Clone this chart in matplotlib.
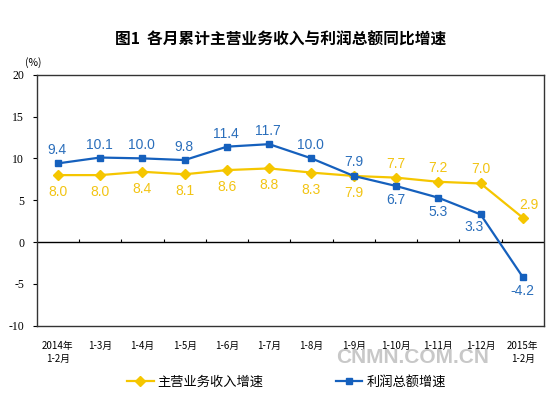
import matplotlib
matplotlib.use("Agg")
import matplotlib.pyplot as plt
from matplotlib.lines import Line2D

plt.rcParams['font.family'] = ['Noto Sans CJK SC', 'DejaVu Sans']

months = ['2014年\n1-2月', '1-3月', '1-4月', '1-5月', '1-6月', '1-7月', '1-8月',
          '1-9月', '1-10月', '1-11月', '1-12月', '2015年\n1-2月']
revenue = [8.0, 8.0, 8.4, 8.1, 8.6, 8.8, 8.3, 7.9, 7.7, 7.2, 7.0, 2.9]
profit = [9.4, 10.1, 10.0, 9.8, 11.4, 11.7, 10.0, 7.9, 6.7, 5.3, 3.3, -4.2]

# label offsets in pixels (dx, dy)
rev_off = [(0, -17)] * 8 + [(0, 14), (0, 14), (0, 14), (6, 13)]
pro_off = [(-1, 13)] * 7 + [(0, 14), (0, -14), (0, -14), (-7, -13), (0, -14)]

yellow = '#F5C600'
blue = '#1560BD'

fig = plt.figure(figsize=(5.51, 3.97), dpi=100)
ax = fig.add_axes([0.0666, 0.1796, 0.9207, 0.6322])

x = list(range(len(months)))
ax.plot(x, revenue, color=yellow, lw=1.6, marker='D', ms=5.5, zorder=3)
ax.plot(x, profit, color=blue, lw=1.6, marker='s', ms=4.5, zorder=4)

for i, v in enumerate(revenue):
    ax.annotate(f'{v:.1f}', (i, v), xytext=rev_off[i], textcoords='offset pixels',
                ha='center', va='center', color='#F2C414', fontsize=10,
                family='Liberation Sans')
for i, v in enumerate(profit):
    ax.annotate(f'{v:.1f}', (i, v), xytext=pro_off[i], textcoords='offset pixels',
                ha='center', va='center', color='#2A6EBB', fontsize=10,
                family='Liberation Sans')

ax.axhline(0, color='black', lw=1, zorder=2)
ax.vlines([i + 0.5 for i in range(len(months) - 1)], 0, 0.4, color='black', lw=0.8)

ax.set_xlim(-0.5, len(months) - 0.5)
ax.set_ylim(-10, 20)
ax.set_yticks([-10, -5, 0, 5, 10, 15, 20])
ax.set_yticklabels(['-10', '-5', '0', '5', '10', '15', '20'],
                   family='Liberation Serif', fontsize=8.5)
ax.tick_params(axis='y', length=3, width=0.8, pad=6)
ax.set_xticks(x)
ax.set_xticklabels(months, fontsize=7, linespacing=1.4)
ax.tick_params(axis='x', length=0, pad=11)
for s in ax.spines.values():
    s.set_color('#333333')
    s.set_linewidth(1)

fig.text(0.51, 0.899, '图1  各月累计主营业务收入与利润总额同比增速', ha='center', va='center',
         fontsize=11.3, fontweight='bold')
fig.text(0.045, 0.843, '(%)', ha='left', va='center', fontsize=7.5)
fig.text(0.748, 0.099, 'CNMN.COM.CN', ha='center', va='center', fontsize=15,
         fontweight='bold', color='#C8C8C8', family='Liberation Sans', zorder=0)

handles = [Line2D([], [], color=yellow, lw=1.6, marker='D', ms=5),
           Line2D([], [], color=blue, lw=1.6, marker='s', ms=4)]
fig.legend(handles, ['主营业务收入增速', '利润总额增速'], loc='center',
           bbox_to_anchor=(0.52, 0.038), ncol=2, frameon=False, fontsize=9.5,
           handlelength=2, handletextpad=0.3, columnspacing=5.5)

plt.savefig('out.png', dpi=100)
